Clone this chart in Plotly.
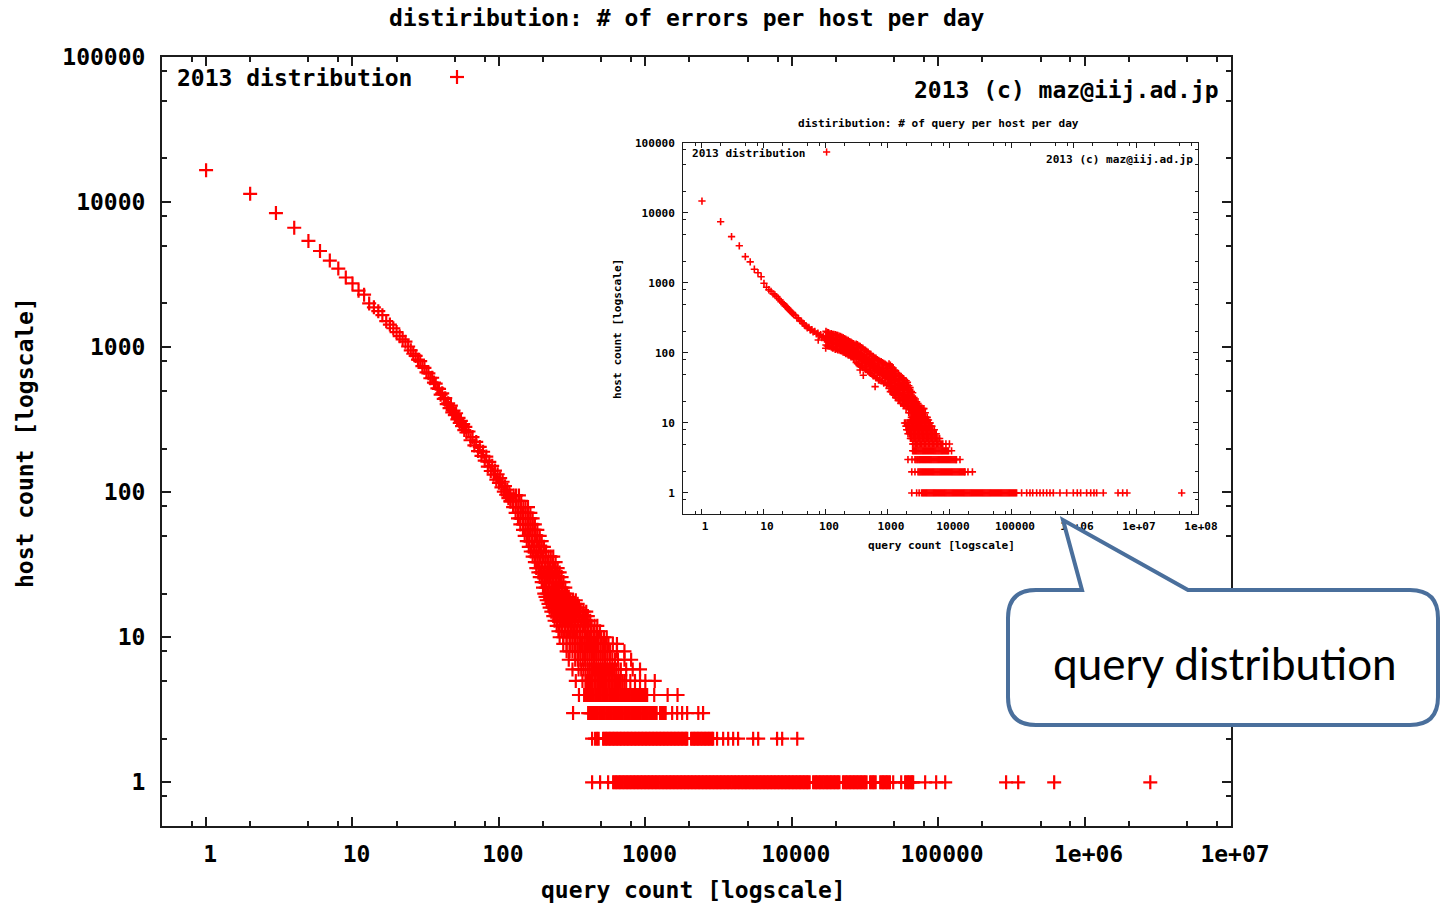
import math
import plotly.graph_objects as go

W, H = 1443, 904
MONO = "DejaVu Sans Mono"
RED = "#ff0000"
INK = "#1c1c1c"

# ---------------- errors per host per day (large panel) ----------------
# query count -> number of hosts that sent that many error queries
err_head_x = [1, 2, 3, 4, 5, 6, 7, 8, 9, 10, 11, 12, 13, 14, 15,
              16, 17, 18, 19, 20, 21, 22, 23, 24, 25, 26, 27, 28, 29, 30]
err_head_y = [16600, 11400, 8400, 6650, 5400, 4600, 3950, 3480, 3020, 2750,
              2450, 2300, 2000, 1880, 1770, 1660, 1510, 1430, 1350, 1270,
              1190, 1130, 1090, 1010, 950, 900, 870, 820, 800, 740]

err_mid_x = [31, 32, 33, 34, 35, 36, 37, 38, 39, 40, 41, 42, 43, 44, 45,
             46, 47, 48, 49, 50, 51, 52, 53, 54, 55, 56, 57, 58, 59, 60,
             62, 64, 66, 68, 70, 72, 74, 76, 78, 80, 82, 84, 86, 88, 90,
             92, 94, 96, 98, 100, 102, 104, 106, 108, 110, 112, 114, 116, 118, 120]
err_mid_y = [720, 670, 660, 610, 615, 570, 560, 520, 515, 470, 480, 440, 445, 405, 410,
             380, 395, 355, 365, 340, 350, 318, 325, 300, 310, 285, 295, 268, 282, 258,
             262, 228, 240, 210, 222, 192, 205, 178, 190, 165, 176, 150, 162, 140, 152,
             132, 141, 122, 133, 116, 125, 108, 118, 101, 110, 96, 104, 91, 98, 86]

# (host count, query counts observed with that host count)
err_rows = [
    (95, [115, 120, 126, 131, 137]),
    (87, [120, 125, 131, 136, 142]),
    (79, [125, 130, 136, 141, 147, 152, 158]),
    (72, [130, 135, 141, 146, 152, 158, 164]),
    (66, [135, 140, 146, 152, 158, 164, 170]),
    (60, [140, 146, 152, 158, 164, 170, 176]),
    (55, [146, 152, 158, 164, 170, 176, 183]),
    (50, [150, 156, 162, 169, 176, 183, 190]),
    (46, [155, 161, 168, 175, 182, 189, 196]),
    (42, [160, 167, 174, 181, 188, 195, 203]),
    (39, [165, 172, 180, 187, 194, 202, 210]),
    (36, [170, 177, 184, 192, 200, 209, 218, 226, 235]),
    (33, [176, 183, 190, 198, 207, 216, 225, 234, 244]),
    (30, [180, 188, 196, 205, 214, 223, 232, 242, 252]),
    (28, [186, 194, 202, 211, 220, 230, 240, 250, 260]),
    (26, [190, 198, 206, 216, 226, 236, 246, 257, 268]),
    (24, [196, 204, 212, 222, 232, 243, 254, 265, 276]),
    (22, [200, 209, 218, 228, 238, 249, 260, 272, 284]),
    (20, [204, 214, 224, 234, 245, 256, 268, 280, 292]),
    (19, [208, 218, 228, 239, 250, 262, 274, 287, 300]),
    (18, [212, 222, 232, 243, 255, 267, 280, 293, 306, 320, 335]),
    (17, [218, 228, 238, 250, 262, 275, 288, 301, 315, 330, 345]),
    (16, [222, 233, 244, 256, 268, 281, 295, 308, 322, 337, 352]),
    (15, [228, 239, 250, 262, 275, 288, 302, 316, 330, 346, 362, 378, 395]),
    (14, [235, 246, 258, 271, 284, 298, 312, 326, 340, 356, 372, 388, 405]),
    (13, [240, 252, 265, 278, 292, 306, 320, 335, 350, 366, 382, 400, 420]),
    (12, [248, 260, 272, 286, 300, 315, 330, 345, 360, 376, 392, 410, 430, 450, 470]),
    (11, [255, 268, 282, 296, 310, 325, 340, 356, 372, 388, 405, 425, 445, 467, 490]),
    (10, [260, 275, 290, 304, 318, 331, 345, 358, 372, 386, 400, 415, 430, 446, 462,
          480, 500, 522, 545]),
    (9, [275, 290, 305, 318, 330, 343, 356, 370, 383, 396, 410, 425, 440, 457, 475,
         495, 515, 537, 560, 600, 640]),
    (8, [290, 304, 318, 332, 346, 360, 374, 388, 402, 417, 432, 447, 462, 478, 495,
         512, 530, 552, 575, 640, 720]),
    (7, [300, 332, 346, 360, 374, 388, 402, 416, 431, 446, 462, 478, 495, 512,
         530, 550, 572, 595, 620, 650, 720, 800]),
    (6, [318, 350, 365, 378, 391, 405, 418, 432, 446, 460, 475, 490, 506, 522,
         539, 556, 574, 592, 612, 632, 655, 680, 740, 820, 920]),
    (5, [335, 372, 390, 400, 412, 425, 436, 448, 459, 470, 482, 494, 506, 518,
         531, 545, 558, 572, 586, 600, 615, 630, 646, 662, 680, 698, 718, 740,
         790, 850, 920, 1000, 1160]),
]

err_x_at_4 = [352, 382, 390, 399, 408, 417, 426, 435, 445, 455, 465, 475, 485, 496,
              507, 518, 530, 541, 553, 566, 578, 591, 604, 617, 631, 645, 659, 673,
              688, 703, 719, 735, 751, 767, 784, 801, 819, 837, 855, 874, 893, 913,
              933, 954, 975, 996, 1018, 1029, 1150, 1420, 1660]
err_x_at_3 = [321, 407, 416, 425, 435, 444, 454, 464, 474, 485, 495, 506, 518, 529,
              541, 553, 565, 577, 590, 603, 616, 630, 644, 658, 672, 687, 702, 718,
              734, 750, 766, 783, 800, 818, 836, 854, 873, 892, 912, 932, 953, 974,
              995, 1017, 1039, 1062, 1086, 1110, 1134, 1159, 1184, 1193,
              1262, 1290, 1318, 1347, 1376, 1525, 1650, 1784, 1930, 2300, 2480]
err_x_at_2 = [433, 454, 468, 480,
              515, 526, 538, 550, 562, 574, 587, 600, 613, 626, 640, 654, 669, 683,
              698, 714, 730, 746, 762, 779, 796, 813, 831, 850, 868, 887, 907, 927,
              947, 968, 989, 1011, 1033, 1056, 1079, 1103, 1127, 1152, 1177, 1203,
              1230, 1257, 1284, 1313, 1342, 1371, 1401, 1432, 1464, 1496, 1529, 1562,
              1597, 1632, 1668, 1704, 1742, 1780, 1819, 1859, 1900, 1933,
              2055, 2100, 2146, 2193, 2242, 2291, 2341, 2393, 2446, 2500, 2555, 2611,
              2668, 2727, 2787, 2848, 2905,
              3090, 3400, 3680, 3980, 4300, 5450, 5900, 7940, 8600, 10900]
err_x_at_1 = [433, 491, 557,
              603, 616, 630, 644, 658, 672, 687, 702, 718, 733, 750, 766, 783, 800,
              818, 836, 854, 873, 892, 912, 932, 952, 973, 995, 1017, 1039, 1062,
              1085, 1109, 1133, 1158, 1184, 1210, 1236, 1264, 1291, 1320, 1349, 1379,
              1409, 1440, 1472, 1504, 1537, 1571, 1606, 1641, 1677, 1714, 1752, 1790,
              1830, 1870, 1911, 1953, 1996, 2040, 2085, 2131, 2178, 2226, 2275, 2325,
              2376, 2428, 2481, 2536, 2592, 2649, 2707, 2767, 2827, 2890, 2953, 3018,
              3085, 3152, 3222, 3293, 3365, 3439, 3515, 3592, 3671, 3752, 3834, 3919,
              4005, 4093, 4183, 4275, 4369, 4465, 4563, 4664, 4766, 4871, 4978, 5088,
              5200, 5314, 5431, 5550, 5672, 5797, 5925, 6055, 6188, 6324, 6463, 6606,
              6751, 6899, 7051, 7206, 7365, 7527, 7693, 7862, 8035, 8211, 8392, 8577,
              8765, 8958, 9155, 9357, 9563, 9773, 9988, 10208, 10432, 10662, 10896,
              11136, 11381, 11631, 11887, 12149, 12416, 12689, 12968, 13254,
              14000, 14310, 14620, 14940, 15270, 15610, 15950, 16300, 16660, 17030,
              17400, 17780, 18170, 18570, 18980, 19400, 19830, 20260, 20710, 21160,
              22400, 22890, 23400, 23910, 24440, 24970, 25520, 26080, 26660, 27240,
              27840, 28460, 29080, 29720, 30370, 31040, 31720, 32420,
              34300, 35050, 35820, 36610, 37420,
              40200, 41080, 41990, 42910, 43850, 44820, 45800, 46810,
              49300, 55900,
              59500, 60800, 62150, 63510, 64910, 66340, 67500,
              81500, 96900, 111700, 291000, 352000, 620000, 2810000]

# ---------------- queries per host per day (small panel) ----------------
qry_head_x = [1, 2, 3, 4, 5, 6, 7, 8, 9, 10, 11, 12, 13, 14, 15,
              16, 17, 18, 19, 20, 21, 22, 23, 24, 25, 26, 27, 28, 29, 30]
qry_head_y = [14800, 7500, 4600, 3400, 2380, 2000, 1570, 1400, 1230, 990,
              870, 800, 760, 700, 674, 640, 600, 572, 540, 520,
              495, 470, 458, 440, 420, 405, 392, 378, 368, 356]
qry_mid_x = [32, 34, 36, 38, 40, 42, 44, 46, 48, 50, 53, 56, 59, 62, 66,
             70, 74, 78, 82, 86, 90, 95, 75, 99, 355, 400, 620]
qry_mid_y = [345, 318, 310, 290, 284, 266, 262, 245, 243, 228, 232, 212, 216, 200, 204,
             188, 192, 176, 182, 166, 174, 158, 153, 117, 57, 48, 33]

# (query count, host counts seen around that query count)
qry_band = [
    (100, [130, 152, 175, 204]), (105, [126, 150, 170, 197]), (110, [125, 145, 168, 195]),
    (116, [124, 141, 166, 188]), (122, [121, 140, 162, 189]), (128, [117, 138, 161, 184]),
    (134, [118, 137, 158, 184]), (141, [113, 135, 153, 182]), (148, [114, 133, 154, 179]),
    (155, [111, 132, 150, 178]), (163, [111, 129, 150, 174]), (171, [108, 128, 146, 173]),
    (180, [107, 125, 144, 168]), (189, [103, 123, 140, 166]), (198, [102, 119, 138, 160]),
    (208, [98, 117, 133, 158]), (218, [98, 113, 131, 153]), (229, [93, 112, 127, 151]),
    (241, [93, 108, 125, 145]), (253, [88, 106, 120, 143]), (265, [88, 102, 118, 138]),
    (279, [84, 101, 114, 136]), (293, [82, 96, 111, 129]),
    (307, [73, 90, 99, 109, 134]), (322, [70, 88, 96, 105, 132]),
    (339, [69, 84, 93, 103, 126]), (356, [65, 82, 90, 98, 124]),
    (373, [65, 80, 88, 97, 119]), (392, [62, 78, 85, 93, 117]),
    (412, [61, 74, 82, 91, 111]), (432, [58, 73, 80, 87, 110]),
    (454, [58, 71, 78, 86, 105]), (476, [55, 69, 75, 82, 103]),
    (500, [53, 65, 72, 79, 97]), (525, [51, 64, 70, 76, 96]),
    (552, [50, 61, 67, 74, 90]), (579, [47, 60, 65, 71, 89]),
    (608, [47, 57, 63, 70, 85]), (639, [44, 56, 61, 66, 84]),
    (670, [44, 53, 59, 65, 80]), (704, [41, 53, 57, 62, 78]),
    (739, [41, 51, 56, 62, 76]), (776, [40, 51, 55, 60, 75]),
    (815, [40, 49, 54, 60, 73]), (856, [37, 48, 52, 56, 71]),
    (899, [38, 46, 51, 56, 69]), (944, [35, 45, 49, 53, 67]),
    (991, [36, 43, 48, 53, 65]),
    (1040, [31, 37, 42, 52, 60, 70]), (1092, [28, 34, 40, 48, 56, 67]),
    (1147, [28, 33, 38, 46, 53, 63]), (1204, [26, 31, 36, 44, 51, 61]),
    (1264, [25, 30, 34, 42, 48, 57]), (1328, [23, 28, 32, 40, 46, 55]),
    (1394, [23, 27, 31, 37, 43, 51]), (1464, [21, 26, 30, 36, 42, 51]),
    (1537, [21, 25, 29, 35, 41, 48]), (1614, [19, 23, 27, 33, 38, 46]),
    (1694, [19, 23, 26, 32, 37, 44]), (1779, [18, 22, 25, 31, 36, 43]),
    (1868, [18, 21, 24, 30, 34, 40]), (1961, [16, 20, 23, 29, 33, 40]),
    (2059, [17, 19, 22, 27, 32, 38]), (2162, [14, 18, 21, 25, 29, 34]),
    (2270, [14, 16, 19, 23, 27, 32]), (2384, [12, 15, 17, 21, 24, 28]),
    (2503, [12, 14, 16, 20, 23, 27]), (2628, [11, 13, 14, 18, 20, 23]),
    (2760, [10, 12, 13, 16, 19, 22]), (2898, [9, 11, 12, 15, 18, 20]),
    (3043, [9, 10, 12, 14, 17, 19]), (3150, [8, 9, 11, 13, 15, 18]),
]

# (host count, query counts observed with that host count)
qry_rows = [
    (16, [2600, 2730, 2870, 3010, 3160, 3320, 3490, 3660, 3800]),
    (14, [2700, 2840, 2980, 3130, 3290, 3450, 3620, 3800, 4000]),
    (12, [2500, 2620, 2750, 2890, 3030, 3180, 3340, 3510, 3690, 3870, 4060, 4300]),
    (11, [2300, 2420, 2540, 2670, 2800, 2940, 3090, 3240, 3400, 3570, 3750, 3940,
          4140, 4350, 4500]),
    (10, [1850, 1940, 2040, 2140, 2250, 2360, 2480, 2600, 2730, 2870, 3010, 3160,
          3320, 3490, 3660, 3850, 4040, 4240, 4450, 4670, 4800]),
    (9, [1950, 2050, 2150, 2260, 2370, 2490, 2610, 2740, 2880, 3030, 3180, 3340,
         3500, 3680, 3860, 4050, 4260, 4470, 4690, 4930, 5100]),
    (8, [2000, 2100, 2200, 2310, 2430, 2550, 2680, 2810, 2950, 3100, 3260, 3420,
         3590, 3770, 3960, 4150, 4360, 4580, 4810, 5050, 5300, 5600]),
    (7, [2100, 2210, 2320, 2430, 2550, 2680, 2820, 2960, 3110, 3260, 3420, 3590,
         3770, 3960, 4160, 4370, 4590, 4820, 5060, 5310, 5580, 5860, 6000]),
    (6, [2300, 2420, 2540, 2660, 2800, 2940, 3080, 3240, 3400, 3570, 3750, 3940,
         4130, 4340, 4560, 4780, 5020, 5270, 5540, 5810, 6100, 6400, 6800]),
    (5, [2500, 2620, 2750, 2890, 3030, 3180, 3340, 3510, 3680, 3870, 4060, 4260,
         4480, 4700, 4940, 5180, 5440, 5710, 6000, 6300, 6620, 6950, 7300, 7660,
         8600, 9800]),
]
qry_x_at_4 = [2500, 2600, 2700, 2810, 2920, 3040, 3160, 3290, 3420, 3560, 3700, 3850,
              4000, 4160, 4330, 4500, 4680, 4870, 5060, 5270, 5480, 5700, 5920, 6160,
              6410, 6660, 6930, 7210, 7490, 7790, 8110, 8430, 8770, 9120, 9470, 10600]
qry_x_at_3 = [2100, 2440,
              2725, 2830, 2950, 3060, 3190, 3310, 3450, 3590, 3730, 3880, 4030, 4190,
              4360, 4540, 4720, 4910, 5100, 5310, 5520, 5740, 5970, 6210, 6460, 6710,
              6980, 7260, 7550, 7860, 8170, 8500, 8840, 9190, 9560, 9940, 10340, 10750,
              11180, 11630, 12090, 12580, 12700, 14500]
qry_x_at_2 = [2420, 2725,
              3047, 3170, 3300, 3430, 3570, 3710, 3860, 4010, 4170, 4340, 4510, 4690,
              4880, 5080, 5280, 5490, 5710, 5940, 6180, 6420, 6680, 6950, 7230, 7520,
              7820, 8130, 8450, 8790, 9140, 9510, 9890, 10290, 10700, 11120, 11570,
              12030, 12510, 13010, 13530, 14070, 14640, 15220, 15830, 16460, 17120,
              17460, 19500, 23000]
qry_x_at_1 = [2420, 2900, 3180,
              3480, 3620, 3760, 3910, 4070, 4230, 4400, 4580, 4760, 4950, 5150, 5360,
              5570, 5790, 6020, 6270, 6520, 6780, 7050, 7330, 7620, 7930, 8250, 8580,
              8920, 9280, 9650, 10030, 10430, 10850, 11290, 11740, 12210, 12700,
              13200, 13730, 14280, 14850, 15450, 16060, 16710, 17370, 18070, 18790,
              19540, 20330, 21140, 21980, 22860, 23780, 24730, 25720, 26750, 27820,
              28930, 30090, 31290, 32540, 33840, 35200, 36600, 38070, 39590, 41170,
              42820, 44540, 46320, 48170, 50100, 52100, 54180, 56350, 58610, 60950,
              63390, 65920, 68560, 71300, 74160, 77120, 80210, 83410, 86750, 90220,
              93830, 97580, 101500, 105500, 109800, 114200, 118700,
              143000, 172600, 195000, 216000, 250000, 283000, 320000, 363000, 410000,
              464000, 594000, 762000, 975000, 1130000, 1280000, 1600000, 1860000,
              2100000, 2320000, 2970000, 5130000, 6100000, 7160000, 54600000]

# ---------------- assemble point lists ----------------
main_x = err_head_x + err_mid_x
main_y = err_head_y + err_mid_y
for count, xs in err_rows:
    main_x += xs
    main_y += [count] * len(xs)
for count, xs in ((4, err_x_at_4), (3, err_x_at_3), (2, err_x_at_2), (1, err_x_at_1)):
    main_x += xs
    main_y += [count] * len(xs)

ins_x = qry_head_x + qry_mid_x
ins_y = qry_head_y + qry_mid_y
for qx, ys in qry_band:
    ins_x += [qx] * len(ys)
    ins_y += ys
for count, xs in qry_rows:
    ins_x += xs
    ins_y += [count] * len(xs)
for count, xs in ((4, qry_x_at_4), (3, qry_x_at_3), (2, qry_x_at_2), (1, qry_x_at_1)):
    ins_x += xs
    ins_y += [count] * len(xs)


def px(x):
    return x / W


def py(y):
    return 1 - y / H


def minor_ticks(top_exp):
    vals = [0.8]
    for e in range(0, top_exp):
        for m in (2, 5, 8):
            vals.append(m * 10 ** e)
    return vals


def log_axis(domain, top_exp, labels, size, lw, major_len, minor_len, standoff, anchor,
             shift=0):
    return dict(
        type="log", domain=domain, range=[math.log10(0.5), top_exp], autorange=False,
        anchor=anchor, automargin=False,
        showline=True, linecolor=INK, linewidth=lw, mirror="allticks",
        ticks="inside", ticklen=major_len, tickwidth=lw, tickcolor=INK,
        tickmode="array", tickvals=[10 ** e for e in range(top_exp + 1)], ticktext=labels,
        tickfont=dict(family=MONO, size=size, color="black", weight="bold"),
        ticklabelstandoff=standoff, ticklabelshift=shift,
        minor=dict(tickmode="array", tickvals=minor_ticks(top_exp), ticks="inside",
                   ticklen=minor_len, tickwidth=lw, tickcolor=INK),
        showgrid=False, zeroline=False, fixedrange=True,
    )


fig = go.Figure()
fig.add_trace(go.Scatter(
    x=main_x, y=main_y, mode="markers", xaxis="x", yaxis="y",
    marker=dict(symbol="cross-thin", size=10, color=RED, line=dict(color=RED, width=2.2)),
    hoverinfo="skip",
))
fig.add_trace(go.Scatter(
    x=ins_x, y=ins_y, mode="markers", xaxis="x2", yaxis="y2",
    marker=dict(symbol="cross-thin", size=5.2, color=RED, line=dict(color=RED, width=1.6)),
    hoverinfo="skip",
))

main_xlabels = ["1", "10", "100", "1000", "10000", "100000", "1e+06", "1e+07"]
main_ylabels = ["1", "10", "100", "1000", "10000", "100000"]
ins_xlabels = ["1", "10", "100", "1000", "10000", "100000", "1e+06", "1e+07", "1e+08"]

BIG, SMALL = 23, 11.1


def text(t, x, y, size, xanchor="center", angle=0, family=MONO, weight="bold"):
    return dict(text=t, x=px(x), y=py(y), xref="paper", yref="paper",
                xanchor=xanchor, yanchor="middle", showarrow=False, textangle=angle,
                font=dict(family=family, size=size, color="black", weight=weight))


annotations = [
    text("distiribution: # of errors per host per day", 687, 18, BIG),
    text("2013 distribution", 175, 78, BIG, xanchor="left"),
    text("2013 (c) maz@iij.ad.jp", 1221, 90, BIG, xanchor="right"),
    text("query count [logscale]", 693, 890, BIG),
    text("host count [logscale]", 25, 443, BIG, angle=-90),
    text("distiribution: # of query per host per day", 938, 124, SMALL),
    text("2013 distribution", 690, 153, SMALL, xanchor="left"),
    text("2013 (c) maz@iij.ad.jp", 1195, 159, SMALL, xanchor="right"),
    text("query count [logscale]", 941, 545, SMALL),
    text("host count [logscale]", 618, 329, SMALL, angle=-90),
    text("query distribution", 1225, 663, 44, family="Lato", weight="normal"),
]


def plus(cx, cy, half, width):
    return [
        dict(type="line", xref="paper", yref="paper", x0=px(cx - half), x1=px(cx + half),
             y0=py(cy), y1=py(cy), line=dict(color=RED, width=width)),
        dict(type="line", xref="paper", yref="paper", x0=px(cx), x1=px(cx),
             y0=py(cy - half), y1=py(cy + half), line=dict(color=RED, width=width)),
    ]


# speech-bubble callout pointing at the 1e+06 tick of the small panel
L, R, T, B, r = 1008, 1438, 590, 725, 28
bubble = (
    f"M {px(L + r)},{py(T)} L {px(1082)},{py(T)} L {px(1063)},{py(520)} "
    f"L {px(1188)},{py(T)} L {px(R - r)},{py(T)} Q {px(R)},{py(T)} {px(R)},{py(T + r)} "
    f"L {px(R)},{py(B - r)} Q {px(R)},{py(B)} {px(R - r)},{py(B)} "
    f"L {px(L + r)},{py(B)} Q {px(L)},{py(B)} {px(L)},{py(B - r)} "
    f"L {px(L)},{py(T + r)} Q {px(L)},{py(T)} {px(L + r)},{py(T)} Z"
)
shapes = plus(457, 77, 7, 2.2) + plus(826.6, 152, 3.6, 1.5) + [
    dict(type="path", path=bubble, xref="paper", yref="paper", layer="above",
         fillcolor="white", line=dict(color="#4A6F9C", width=4)),
]

fig.update_layout(
    width=W, height=H, autosize=False,
    margin=dict(l=0, r=0, t=0, b=0, pad=0, autoexpand=False),
    paper_bgcolor="white", plot_bgcolor="white", showlegend=False, hovermode=False,
    xaxis=log_axis([px(162), px(1231)], 7, main_xlabels, BIG, 2, 9, 5, 6, "y", shift=4),
    yaxis=log_axis([py(826), py(57)], 5, main_ylabels, BIG, 2, 9, 5, 10, "x"),
    xaxis2=log_axis([px(683.3), px(1198)], 8, ins_xlabels, SMALL, 1.2, 5, 3, 2, "y2",
                    shift=3),
    yaxis2=log_axis([py(514), py(143)], 5, main_ylabels, SMALL, 1.2, 5, 3, 5, "x2"),
    annotations=annotations,
    shapes=shapes,
)

fig.write_html("out.html")
